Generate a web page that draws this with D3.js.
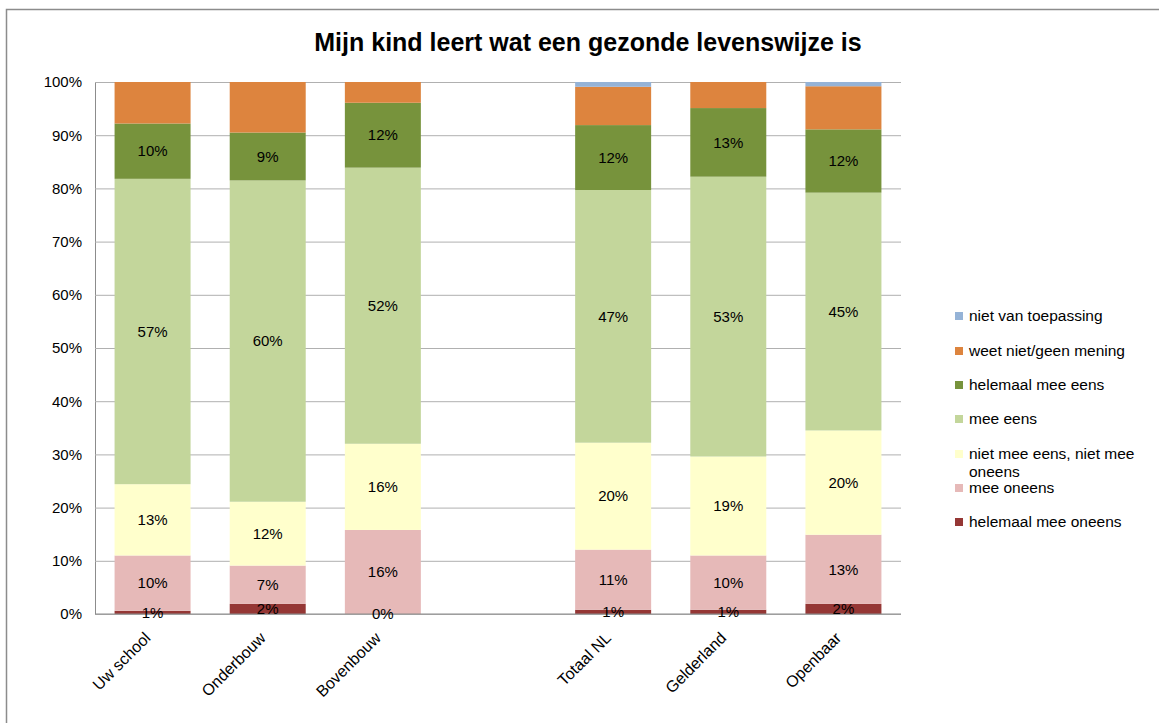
<!DOCTYPE html>
<html lang="nl">
<head>
    <meta charset="UTF-8">
    <title>Mijn kind leert wat een gezonde levenswijze is</title>
    <script src="https://d3js.org/d3.v7.min.js"></script>
    <style>
        body {
            margin: 0;
            background: #fff;
        }
        svg text {
            font-family: "Liberation Sans", Arial, sans-serif;
            fill: #000;
        }
        .grid line {
            stroke: #b0b0b0;
        }
        .grid path {
            stroke: #8c8c8c;
        }
        .label {
            font-size: 15px;
            text-anchor: middle;
        }
    </style>
</head>
<body>
    <script>
        // Categories (empty slot separates the school bars from the references)
        const categories = ["Uw school", "Onderbouw", "Bovenbouw", "", "Totaal NL", "Gelderland", "Openbaar"];

        // Series values in percent, bottom to top
        const helemaalMeeOneens = [0.6, 1.9, 0.0, null, 0.8, 0.8, 1.9];
        const meeOneens = [10.4, 7.2, 15.8, null, 11.3, 10.2, 13.0];
        const nietMeeEensNietMeeOneens = [13.4, 12.0, 16.2, null, 20.1, 18.6, 19.6];
        const meeEens = [57.4, 60.4, 51.9, null, 47.5, 52.6, 44.7];
        const helemaalMeeEens = [10.4, 9.0, 12.2, null, 12.2, 12.9, 11.9];
        const weetNietGeenMening = [7.8, 9.5, 3.9, null, 7.2, 4.9, 8.1];
        const nietVanToepassing = [0, 0, 0, null, 0.9, 0, 0.8];

        const yTicks = [0, 0.1, 0.2, 0.3, 0.4, 0.5, 0.6, 0.7, 0.8, 0.9, 1];

        const series = [
            {name: "helemaal mee oneens", values: helemaalMeeOneens, color: "#953735", label: true},
            {name: "mee oneens", values: meeOneens, color: "#e6b9b8", label: true},
            {name: "niet mee eens, niet mee oneens", values: nietMeeEensNietMeeOneens, color: "#ffffcc", label: true},
            {name: "mee eens", values: meeEens, color: "#c3d69b", label: true},
            {name: "helemaal mee eens", values: helemaalMeeEens, color: "#77933c", label: true},
            {name: "weet niet/geen mening", values: weetNietGeenMening, color: "#dd843e", label: false},
            {name: "niet van toepassing", values: nietVanToepassing, color: "#95b3d7", label: false}
        ];

        const W = 1159, H = 723;
        const margin = {top: 82, left: 95, right: 258, bottom: 109};
        const width = W - margin.left - margin.right;
        const height = H - margin.top - margin.bottom;

        const svg = d3.select("body")
            .append("svg")
            .attr("width", W)
            .attr("height", H);

        // Outer chart frame (only top and left edge visible)
        svg.append("rect")
            .attr("x", 6.5)
            .attr("y", 9.5)
            .attr("width", W + 20)
            .attr("height", H + 20)
            .attr("fill", "none")
            .attr("stroke", "#8c8c8c")
            .attr("stroke-width", 1.5);

        // Title
        svg.append("text")
            .attr("x", 588)
            .attr("y", 51)
            .attr("text-anchor", "middle")
            .style("font-size", "25px")
            .style("font-weight", "bold")
            .text("Mijn kind leert wat een gezonde levenswijze is");

        const g = svg.append("g")
            .attr("transform", `translate(${margin.left},${margin.top})`);

        const x = d3.scaleBand()
            .domain(categories)
            .range([0, width])
            .paddingInner(0.34)
            .paddingOuter(0.17);

        const y = d3.scaleLinear()
            .domain([0, 1])
            .range([height, 0]);

        // Y axis with gridlines
        g.append("g")
            .attr("class", "grid")
            .call(d3.axisLeft(y)
                .tickValues(yTicks)
                .tickSize(-width)
                .tickSizeOuter(0)
                .tickPadding(13)
                .tickFormat(d3.format(".0%")))
            .call(s => s.selectAll("text").style("font-size", "15px"));

        // Stack data
        const rows = categories.map((c, i) => {
            const r = {category: c};
            series.forEach(s => r[s.name] = s.values[i] == null ? 0 : s.values[i] / 100);
            return r;
        });
        const stacked = d3.stack().keys(series.map(s => s.name))(rows);

        stacked.forEach((layer, k) => {
            g.append("g")
                .attr("fill", series[k].color)
                .selectAll("rect")
                .data(layer.filter(d => d.data.category !== ""))
                .join("rect")
                .attr("x", d => x(d.data.category))
                .attr("y", d => y(d[1]))
                .attr("width", x.bandwidth())
                .attr("height", d => y(d[0]) - y(d[1]));
        });

        // Bottom axis line
        g.append("line")
            .attr("x1", 0)
            .attr("x2", width)
            .attr("y1", height)
            .attr("y2", height)
            .attr("stroke", "#8c8c8c");

        // Data labels
        stacked.forEach((layer, k) => {
            if (!series[k].label) return;
            g.append("g")
                .selectAll("text")
                .data(layer.filter(d => d.data.category !== ""))
                .join("text")
                .attr("class", "label")
                .attr("x", d => x(d.data.category) + x.bandwidth() / 2)
                .attr("y", d => y((d[0] + d[1]) / 2))
                .attr("dy", "0.35em")
                .text(d => Math.round((d[1] - d[0]) * 100) + "%");
        });

        // Category labels, rotated
        g.append("g")
            .selectAll("text")
            .data(categories.filter(c => c !== ""))
            .join("text")
            .attr("transform", c => `translate(${x(c) + x.bandwidth() / 2 - 5},${height + 21}) rotate(-45)`)
            .attr("text-anchor", "end")
            .attr("dy", "0.35em")
            .style("font-size", "16px")
            .text(c => c);

        // Legend, top item is last series
        const legendRows = [
            {s: series[6], y: 316},
            {s: series[5], y: 351},
            {s: series[4], y: 385},
            {s: series[3], y: 419},
            {s: series[2], y: 454},
            {s: series[1], y: 488},
            {s: series[0], y: 522}
        ];
        const legend = svg.append("g");
        const items = legend.selectAll("g")
            .data(legendRows)
            .join("g")
            .attr("transform", d => `translate(955,${d.y})`);
        items.append("rect")
            .attr("x", 0)
            .attr("y", -4)
            .attr("width", 8)
            .attr("height", 8)
            .attr("fill", d => d.s.color);
        items.append("text")
            .attr("x", 14)
            .attr("dy", "0.35em")
            .style("font-size", "15.5px")
            .each(function (d) {
                const t = d3.select(this);
                if (d.s.name === "niet mee eens, niet mee oneens") {
                    t.append("tspan").attr("x", 14).text("niet mee eens, niet mee");
                    t.append("tspan").attr("x", 14).attr("dy", "1.12em").text("oneens");
                } else {
                    t.text(d.s.name);
                }
            });
    </script>
</body>
</html>
